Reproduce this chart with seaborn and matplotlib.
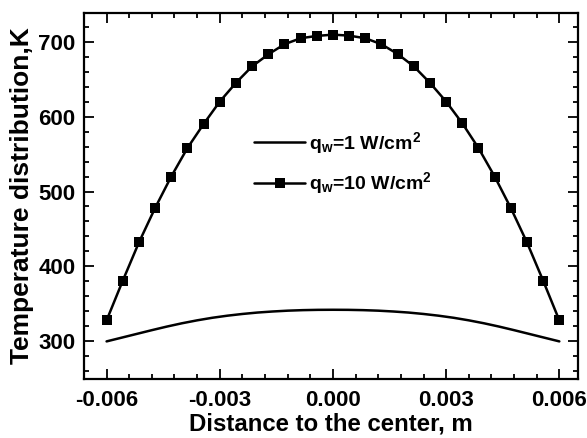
import numpy as np
import pandas as pd
import matplotlib
matplotlib.use("Agg")
import matplotlib.pyplot as plt
import seaborn as sns
from matplotlib.ticker import MultipleLocator

# ---- data ----
x_q10 = [-0.006000, -0.005571, -0.005143, -0.004714, -0.004286, -0.003857,
         -0.003429, -0.003000, -0.002571, -0.002143, -0.001714, -0.001286,
         -0.000857, -0.000429, 0.000000, 0.000429, 0.000857, 0.001286,
         0.001714, 0.002143, 0.002571, 0.003000, 0.003429, 0.003857,
         0.004286, 0.004714, 0.005143, 0.005571, 0.006000]
t_q10 = [328, 381, 432, 478, 520, 558, 590, 620, 645, 667, 683, 696.5,
         704.5, 707.6, 709.3, 708, 704.5, 696.5, 683.5, 667, 645, 620,
         591, 558, 520, 478, 432, 381, 328]

x_q1 = [-0.0060, -0.0056, -0.0052, -0.0048, -0.0044, -0.0040, -0.0036,
        -0.0032, -0.0028, -0.0024, -0.0020, -0.0016, -0.0012, -0.0008,
        -0.0004, 0.0000, 0.0004, 0.0008, 0.0012, 0.0016, 0.0020, 0.0024,
        0.0028, 0.0032, 0.0036, 0.0040, 0.0044, 0.0048, 0.0052, 0.0056,
        0.0060]
t_q1 = [300, 305.0, 310.0, 315.0, 319.8, 324.2, 328.1, 331.5, 334.3,
        336.6, 338.5, 339.9, 341.0, 341.7, 342.1, 342.2, 342.1, 341.7,
        341.0, 339.9, 338.5, 336.6, 334.3, 331.5, 328.1, 324.2, 319.8,
        315.0, 310.0, 305.0, 300]

labels = [r"q$_{\rm w}$=1 W/cm$^{\rm 2}$", r"q$_{\rm w}$=10 W/cm$^{\rm 2}$"]
x_ticks = [-0.006, -0.003, 0.000, 0.003, 0.006]
x_ticklabels = ["-0.006", "-0.003", "0.000", "0.003", "0.006"]
y_ticks = [300, 400, 500, 600, 700]

sns.set_theme(style="ticks")
plt.rcParams["font.family"] = ["Liberation Sans", "DejaVu Sans"]
plt.rcParams["font.weight"] = "bold"
plt.rcParams["text.color"] = "black"
plt.rcParams["axes.labelcolor"] = "black"
plt.rcParams["mathtext.fontset"] = "custom"
plt.rcParams["mathtext.rm"] = "Liberation Sans:bold"
plt.rcParams["mathtext.it"] = "Liberation Sans:bold"
plt.rcParams["mathtext.bf"] = "Liberation Sans:bold"
plt.rcParams["mathtext.default"] = "rm"

df1 = pd.DataFrame({"x": x_q1, "T": t_q1})
df2 = pd.DataFrame({"x": x_q10, "T": t_q10})

fig = plt.figure(figsize=(5.87, 4.38), dpi=100)
ax = fig.add_axes([0.143, 0.135, 0.842, 0.835])

sns.lineplot(data=df1, x="x", y="T", ax=ax, color="black", linewidth=1.8,
             label=labels[0])
sns.lineplot(data=df2, x="x", y="T", ax=ax, color="black", linewidth=1.8,
             marker="s", markersize=6.5, markeredgewidth=0, label=labels[1])

ax.set_xlim(-0.0066, 0.0065)
ax.set_ylim(250, 738)
ax.set_xticks(x_ticks)
ax.set_xticklabels(x_ticklabels)
ax.set_yticks(y_ticks)
ax.xaxis.set_minor_locator(MultipleLocator(0.0006))
ax.yaxis.set_minor_locator(MultipleLocator(20))

ax.tick_params(which="both", direction="in", top=True, right=True,
               colors="black", width=1.3)
ax.tick_params(which="major", length=7)
ax.tick_params(which="minor", length=3.5)
ax.tick_params(axis="x", labelsize=16, pad=8)
ax.tick_params(axis="y", labelsize=16, pad=6)
for lab in ax.get_xticklabels() + ax.get_yticklabels():
    lab.set_fontweight("bold")
    lab.set_color("black")

for sp in ax.spines.values():
    sp.set_linewidth(1.6)
    sp.set_color("black")

ax.set_xlabel("Distance to the center, m", fontsize=17.3, fontweight="bold",
              color="black", labelpad=1)
ax.set_ylabel("Temperature distribution,K", fontsize=19, fontweight="bold",
              color="black", labelpad=3)

leg = ax.legend(loc="center left", bbox_to_anchor=(0.345, 0.59),
                frameon=False, fontsize=14, handlelength=2.6,
                handletextpad=0.2, labelspacing=0.75, borderpad=0,
                borderaxespad=0, numpoints=1)
for t in leg.get_texts():
    t.set_fontweight("bold")
    t.set_color("black")

fig.savefig("out.png", dpi=100)
